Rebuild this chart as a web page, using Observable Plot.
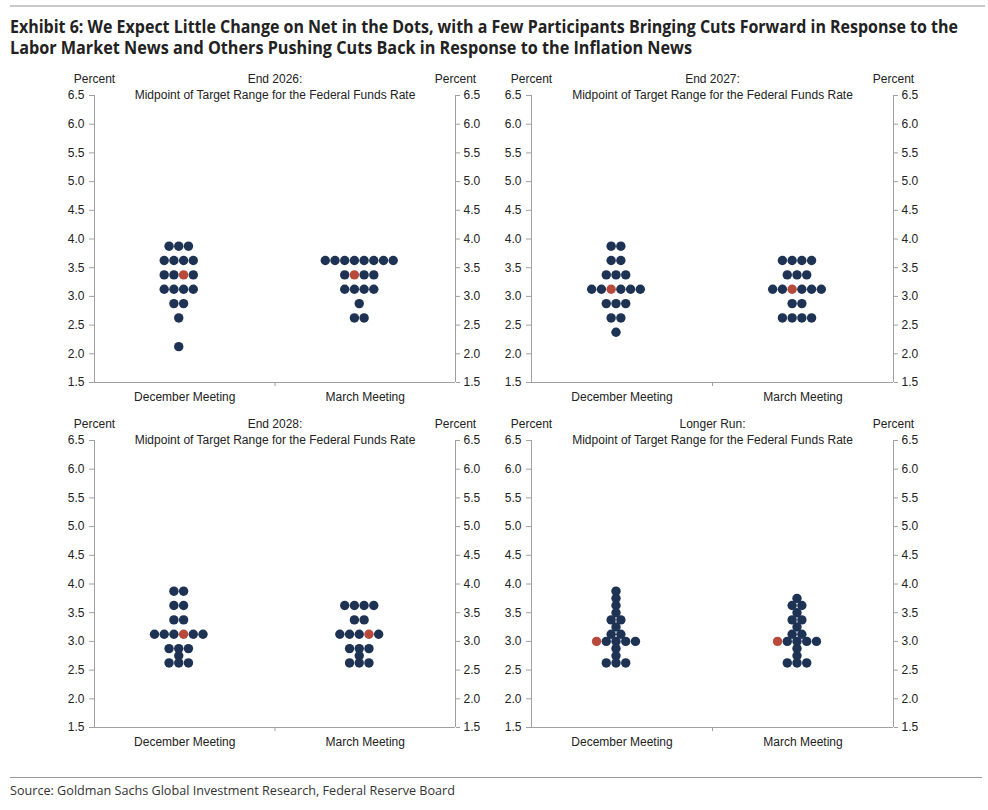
<!DOCTYPE html>
<html>
<head>
<meta charset="utf-8">
<script src="https://cdn.jsdelivr.net/npm/d3@7"></script>
<script src="https://cdn.jsdelivr.net/npm/@observablehq/plot@0.6"></script>
<style>
  html, body { margin: 0; padding: 0; background: #fff; }
  #wrap { position: relative; width: 988px; height: 810px; overflow: hidden; }
  .topline { position: absolute; left: 10px; top: 5px; width: 975px; height: 2px; background: #c9c9c9; }
  .title { position: absolute; left: 10px; font-family: "Open Sans", sans-serif; font-weight: 700; font-size: 17px; color: #222; white-space: nowrap; transform-origin: left center; line-height: 21px; }
  .botline { position: absolute; left: 10px; top: 777px; width: 972px; height: 1px; background: #9a9a9a; }
  .source { position: absolute; left: 10px; top: 783px; font-family: "Open Sans", sans-serif; font-size: 12.5px; color: #333; white-space: nowrap; transform-origin: left center; line-height: 16px; }
  .panel { position: absolute; }
</style>
</head>
<body>
<div id="wrap">
  <div class="topline"></div>
  <div class="title" id="t1" style="top:16px">Exhibit 6: We Expect Little Change on Net in the Dots, with a Few Participants Bringing Cuts Forward in Response to the</div>
  <div class="title" id="t2" style="top:37px">Labor Market News and Others Pushing Cuts Back in Response to the Inflation News</div>
  <div class="panel" id="p0" style="left:0px;top:65px"></div>
  <div class="panel" id="p1" style="left:494px;top:65px"></div>
  <div class="panel" id="p2" style="left:0px;top:410px"></div>
  <div class="panel" id="p3" style="left:494px;top:410px"></div>
  <div class="botline"></div>
  <div class="source" id="src">Source: Goldman Sachs Global Investment Research, Federal Reserve Board</div>
</div>
<script>
// ---- Data (rate, number of dots in that row) ----
const meetings = ["December Meeting", "March Meeting"];
const panelTitles = ["End 2026:", "End 2027:", "End 2028:", "Longer Run:"];
const subtitle = "Midpoint of Target Range for the Federal Funds Rate";
const yTicks = [1.5, 2.0, 2.5, 3.0, 3.5, 4.0, 4.5, 5.0, 5.5, 6.0, 6.5];

const dec2026 = [[3.875,3],[3.625,4],[3.375,4],[3.125,4],[2.875,2],[2.625,1],[2.125,1]];
const mar2026 = [[3.625,8],[3.375,4],[3.125,4],[2.875,1],[2.625,2]];
const dec2027 = [[3.875,2],[3.625,2],[3.375,3],[3.125,6],[2.875,3],[2.625,2],[2.375,1]];
const mar2027 = [[3.625,4],[3.375,3],[3.125,6],[2.875,2],[2.625,4]];
const dec2028 = [[3.875,2],[3.625,2],[3.375,2],[3.125,6],[2.875,3],[2.75,1],[2.625,3]];
const mar2028 = [[3.625,4],[3.375,2],[3.125,5],[2.875,3],[2.75,1],[2.625,3]];
const decLR = [[3.875,1],[3.75,1],[3.625,1],[3.5,1],[3.375,2],[3.25,1],[3.125,2],[3.0,5],[2.875,1],[2.75,1],[2.625,3]];
const marLR = [[3.75,1],[3.625,2],[3.5,1],[3.375,2],[3.25,1],[3.125,2],[3.0,5],[2.875,1],[2.75,1],[2.625,3]];

// median dot: [rate, position within its row]
const medDec = [[3.375,2],[3.125,2],[3.125,3],[3.0,0]];
const medMar = [[3.375,1],[3.125,2],[3.125,3],[3.0,0]];

const series = [[dec2026, mar2026],[dec2027, mar2027],[dec2028, mar2028],[decLR, marLR]];

const NAVY = "#1e3354", RED = "#b84a3c", AXIS = "#a0a0a0", TEXT = "#222";
const SLOT = 9.7 * 2 / 361; // dot spacing in x-domain units

function buildDots(p) {
  const out = [];
  series[p].forEach((rows, m) => {
    const med = m === 0 ? medDec[p] : medMar[p];
    rows.forEach(([rate, n]) => {
      for (let i = 0; i < n; i++) {
        out.push({
          x: m + 0.5 + (i - (n - 1) / 2) * SLOT,
          y: rate,
          median: rate === med[0] && i === med[1]
        });
      }
    });
  });
  return out;
}

function panel(p) {
  const left = p % 2 === 0;
  const dots = buildDots(p);
  return Plot.plot({
    width: 494,
    height: 345,
    marginLeft: left ? 94 : 37,
    marginRight: left ? 39 : 95,
    marginTop: 30,
    marginBottom: 28,
    style: { fontFamily: "'Liberation Sans', Arial, sans-serif", fontSize: "12px", color: TEXT, background: "#fff" },
    x: { domain: [0, 2], axis: null },
    y: { domain: [1.5, 6.5], axis: null },
    marks: [
      Plot.axisY({ anchor: "left", ticks: yTicks, tickFormat: d3.format(".1f"), tickSize: 5, tickPadding: 5, stroke: AXIS, fill: TEXT, label: null }),
      Plot.axisY({ anchor: "right", ticks: yTicks, tickFormat: d3.format(".1f"), tickSize: 4, tickPadding: 4, stroke: AXIS, fill: TEXT, label: null }),
      Plot.axisX({ ticks: [1], tickSize: 4, tickFormat: () => "", stroke: AXIS, label: null }),
      Plot.ruleX([0, 2], { stroke: AXIS }),
      Plot.ruleY([1.5], { stroke: AXIS }),
      Plot.text([meetings[0], meetings[1]], { x: (d, i) => i + 0.5, frameAnchor: "bottom", lineAnchor: "middle", dy: 15, text: d => d, fill: TEXT }),
      Plot.text(["Percent"], { frameAnchor: "top-left", lineAnchor: "middle", dy: -16, textAnchor: "middle", fill: TEXT }),
      Plot.text(["Percent"], { frameAnchor: "top-right", lineAnchor: "middle", dy: -16, textAnchor: "middle", fill: TEXT }),
      Plot.text([panelTitles[p]], { frameAnchor: "top", lineAnchor: "middle", dy: -16, fill: TEXT }),
      Plot.text([subtitle], { frameAnchor: "top", lineAnchor: "middle", dy: 0, fill: TEXT }),
      Plot.dot(dots.filter(d => !d.median), { x: "x", y: "y", r: 4.7, fill: NAVY, stroke: "none", dx: -6 }),
      Plot.dot(dots.filter(d => d.median), { x: "x", y: "y", r: 4.7, fill: RED, stroke: "none", dx: -6 })
    ]
  });
}

for (let p = 0; p < 4; p++) document.getElementById("p" + p).appendChild(panel(p));

function fit(id, target) {
  const el = document.getElementById(id);
  const w = el.getBoundingClientRect().width;
  el.style.transform = `scaleX(${target / w})`;
}
fit("t1", 948);
fit("t2", 682);
fit("src", 445);
</script>
</body>
</html>
